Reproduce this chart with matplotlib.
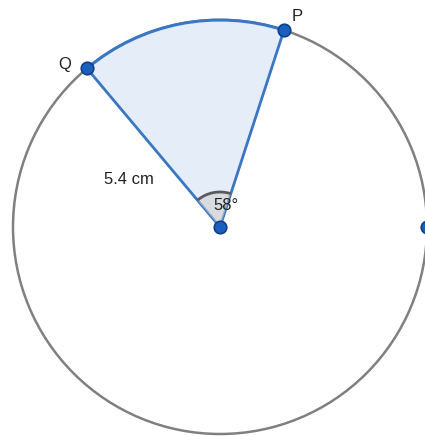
import numpy as np
import matplotlib
matplotlib.use("Agg")
import matplotlib.pyplot as plt
from matplotlib.patches import Circle, Wedge, Arc

plt.rcParams['font.family'] = ['Liberation Sans', 'DejaVu Sans']

# data
radius_cm = 5.4
angle_deg = 58
start_deg = 72  # direction of P
labels = ["P", "Q"]

# layout (pixels)
cx, cy, R = 220, 227, 207
px_per_cm = R / radius_cm

fig = plt.figure(figsize=(4.25, 4.36), dpi=100)
ax = fig.add_axes([0, 0, 1, 1])
ax.set_xlim(0, 425)
ax.set_ylim(0, 436)
ax.axis("off")
ccy = 436 - cy

r = radius_cm * px_per_cm
ax.add_patch(Circle((cx, ccy), r, fill=False, ec="#808080", lw=1.8, zorder=1))
ax.add_patch(Wedge((cx, ccy), r, start_deg, start_deg + angle_deg,
                   fc="#e5edf9", ec="none", zorder=2))
ax.add_patch(Arc((cx, ccy), 2 * r, 2 * r, theta1=start_deg, theta2=start_deg + angle_deg,
                 ec="#3a76c4", lw=2.2, zorder=3))
pts = {}
for lab, a in zip(labels, [start_deg, start_deg + angle_deg]):
    x = cx + r * np.cos(np.radians(a))
    y = ccy + r * np.sin(np.radians(a))
    pts[lab] = (x, y)
    ax.plot([cx, x], [ccy, y], color="#3a76c4", lw=2, zorder=3)

# angle marker
rm = 35
ax.add_patch(Wedge((cx, ccy), rm, start_deg, start_deg + angle_deg,
                   fc="#d0d0d0", ec="none", alpha=0.6, zorder=4))
ax.add_patch(Arc((cx, ccy), 2 * rm, 2 * rm, theta1=start_deg, theta2=start_deg + angle_deg,
                 ec="#5a5a5a", lw=2, zorder=5))

# points
allpts = [pts["P"], pts["Q"], (cx, ccy), (cx + r, ccy)]
for x, y in allpts:
    ax.plot(x, y, "o", ms=9, mfc="#1c5fc0", mec="#0f3f85", mew=1.2, zorder=6, clip_on=False)

fs = 12
ax.text(pts["P"][0] + 13, pts["P"][1] + 14, "P", fontsize=fs, color="#222", ha="center", va="center")
ax.text(pts["Q"][0] - 22, pts["Q"][1] + 4, "Q", fontsize=fs, color="#222", ha="center", va="center")
ax.text(129, 436 - 180, f"{radius_cm} cm", fontsize=fs, color="#222", ha="center", va="center")
ax.text(cx + 6, ccy + 22, f"{angle_deg}°", fontsize=fs, color="#222", ha="center", va="center", zorder=7)

fig.savefig("out.png", dpi=100)
